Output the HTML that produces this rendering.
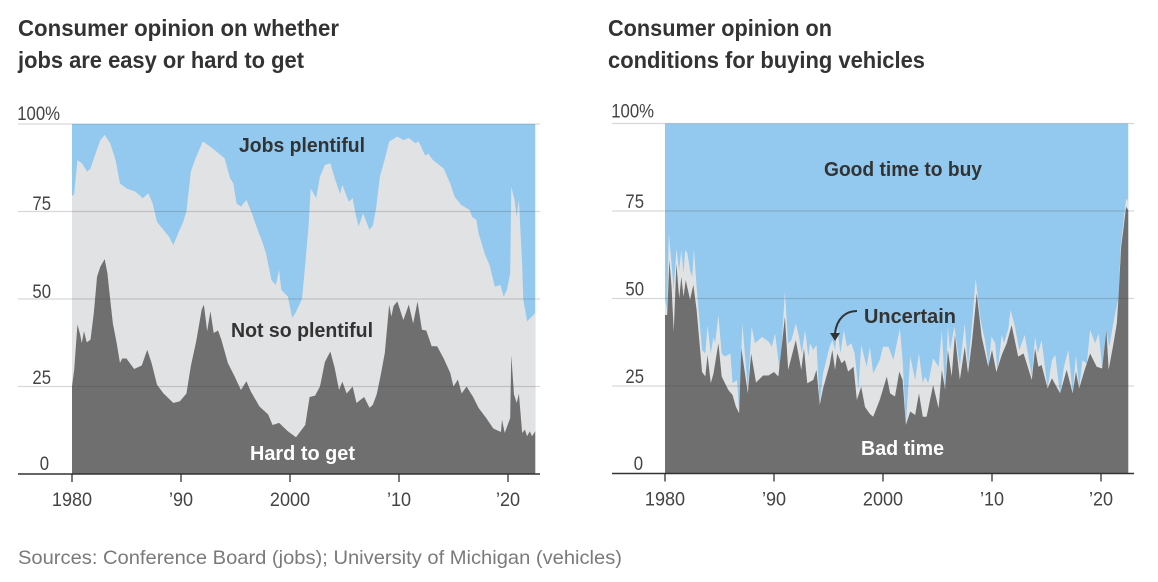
<!DOCTYPE html>
<html lang="en">
<head>
<meta charset="utf-8">
<title>Consumer opinion charts</title>
<style>
html,body{margin:0;padding:0;background:#fff}
svg{display:block}
text{font-family:"Liberation Sans",sans-serif}
.title{font-size:23px;font-weight:700;fill:#333}
.tick{font-size:19px;fill:#444}
.note{font-size:19.5px;fill:#7a7a7a}
.lab{font-size:20px;font-weight:700;fill:#333}
.labw{font-size:20px;font-weight:700;fill:#fff}
</style>
</head>
<body>
<svg id="root" width="1158" height="582" viewBox="0 0 1158 582" xmlns="http://www.w3.org/2000/svg">
  <rect width="1158" height="582" fill="#fff"/>
  <g id="chart-left"></g>
  <g id="chart-right"></g>

  <text class="title" x="18" y="36" textLength="321" lengthAdjust="spacingAndGlyphs">Consumer opinion on whether</text>
  <text class="title" x="18" y="68" textLength="286" lengthAdjust="spacingAndGlyphs">jobs are easy or hard to get</text>
  <text class="title" x="608" y="36" textLength="224" lengthAdjust="spacingAndGlyphs">Consumer opinion on</text>
  <text class="title" x="608" y="68" textLength="317" lengthAdjust="spacingAndGlyphs">conditions for buying vehicles</text>

  <text class="lab" x="239" y="152" textLength="126" lengthAdjust="spacingAndGlyphs">Jobs plentiful</text>
  <text class="lab" x="231" y="337" textLength="142" lengthAdjust="spacingAndGlyphs">Not so plentiful</text>
  <text class="labw" x="250" y="460" textLength="105" lengthAdjust="spacingAndGlyphs">Hard to get</text>
  <text class="lab" x="824" y="176" textLength="158" lengthAdjust="spacingAndGlyphs">Good time to buy</text>
  <text class="lab" x="864" y="323" textLength="92" lengthAdjust="spacingAndGlyphs">Uncertain</text>
  <text class="labw" x="861" y="455" textLength="83" lengthAdjust="spacingAndGlyphs">Bad time</text>

  <path d="M857 311 C846 311 837 318 835 333" fill="none" stroke="#333" stroke-width="2"/>
  <path d="M830 333 L840 333 L835 341 Z" fill="#333"/>

  <text class="note" x="18" y="564" textLength="604" lengthAdjust="spacingAndGlyphs">Sources: Conference Board (jobs); University of Michigan (vehicles)</text>
</svg>

<script>
const tickYears = [1980, 1990, 2000, 2010, 2020];
const tickYearLabels = ['1980', "\u201990", '2000', "\u201910", "\u201920"];
const tickPercents = [100, 75, 50, 25, 0];
const tickPercentLabels = ['100%', '75', '50', '25', '0'];

const jobsNotPlentifulTopYears = [1980,1980.2,1980.5,1980.9,1981.4,1981.7,1982.1,1982.6,1983,1983.5,1984,1984.4,1985,1985.8,1986.5,1987,1987.4,1987.8,1988.4,1988.9,1989.3,1989.8,1990.2,1990.5,1990.9,1991.4,1992,1992.7,1993.3,1994,1994.5,1994.8,1995.1,1995.5,1996,1996.5,1997,1997.5,1997.8,1998.3,1998.7,1999,1999.2,1999.8,2000.2,2000.5,2001.1,2001.4,2001.7,2001.9,2002.4,2002.75,2003.2,2003.7,2004.1,2004.6,2004.8,2005.4,2005.75,2006,2006.3,2006.7,2007.3,2007.6,2007.9,2008.25,2008.7,2009.1,2009.85,2010.4,2010.9,2011.5,2011.8,2012.4,2012.7,2013.1,2014.1,2014.7,2015.1,2015.7,2016.5,2016.7,2017.1,2017.3,2017.9,2018.3,2018.8,2019.3,2019.6,2019.9,2020.2,2020.3,2020.6,2020.8,2021,2021.3,2021.4,2021.75,2022.5];
const jobsNotPlentifulTopValues = [79.4,80,89.7,88.8,86.4,87.3,91,95.4,96.9,94.5,89.7,83,81.6,80.7,78.8,80.2,77.3,72,69.7,67.8,65.4,69.2,72,75,86.4,90.7,95,93.5,92,90.2,84.5,83,77.3,76.4,78.3,74.5,70,66,63,55.4,54,58.3,52.6,50.7,44.6,46,50,60,70.7,81.6,78.8,85,88.3,88.8,84.5,80,82.6,77.8,78.8,74.5,70.7,74.5,69.7,71,76,85,90,95,96.4,95.4,96,94.5,95,91,91.5,89.7,87.3,83,79.2,76.9,75.4,73.5,72.6,68.8,62.6,59.7,53.5,54,50.7,52.6,57.3,82,78.3,73.5,78.3,59.7,50,43.6,46];

const jobsHardYears = [1980,1980.2,1980.5,1980.75,1980.9,1981.1,1981.35,1981.7,1982,1982.3,1982.6,1983,1983.25,1983.5,1983.75,1984.1,1984.4,1984.6,1985,1985.7,1986.4,1986.9,1987.3,1987.8,1988.4,1989.3,1989.9,1990.5,1990.9,1991.4,1991.9,1992.1,1992.4,1992.7,1993,1993.4,1993.7,1994.3,1994.9,1995.5,1996,1996.4,1997.2,1998,1998.4,1999,1999.8,2000.55,2001.4,2001.8,2002.3,2002.75,2003.2,2003.7,2004.1,2004.5,2004.8,2005.2,2005.75,2006.1,2006.8,2007.3,2007.6,2007.95,2008.3,2008.7,2009.1,2009.3,2009.5,2009.85,2010.4,2010.9,2011.3,2011.7,2012.1,2012.5,2013,2013.5,2014.1,2014.7,2015,2015.4,2015.75,2016.2,2016.8,2017.3,2018,2018.65,2019.35,2019.45,2019.7,2020.2,2020.3,2020.55,2020.8,2021,2021.3,2021.55,2021.75,2022,2022.2,2022.5];
const jobsHardValues = [25,29.8,42.7,39.8,37.4,40.8,37.6,38.4,46,56.4,59.2,61.4,57.3,50,43,37.4,31.7,33,33,30,31,35.5,31.7,25.5,23,20.3,20.8,23,30.8,38,47,48.4,40.8,46.5,40.3,41,38.4,31.7,28,24,26.5,23.6,19.3,17,14,14.6,12.2,10.5,14,22,22.4,25,32,35,30.3,24,26.4,23,25,20.3,22,18.9,19.8,22.7,27.9,34.6,48.4,45,48,49.3,44,48.4,43,49.3,41.2,41,36.5,36.5,33,28.9,25,27,23,25,22,18.9,16,13,12,15.5,11.7,16,34,22.7,20.3,23,11.7,12.7,10.8,12.2,10.8,12.2];

const carsUncertainTopYears = [1980,1980.2,1980.35,1980.6,1980.8,1981.05,1981.3,1981.5,1981.7,1981.85,1982.05,1982.3,1982.5,1982.65,1982.9,1983.05,1983.4,1983.7,1983.9,1984.2,1984.45,1984.6,1984.9,1985.2,1985.5,1986,1986.2,1986.6,1986.8,1987.1,1987.35,1987.6,1987.95,1988.25,1988.9,1989.5,1989.8,1990.1,1990.55,1991,1991.3,1991.6,1992,1992.3,1992.55,1992.85,1993.15,1993.3,1993.6,1993.9,1994.2,1994.5,1995.1,1995.35,1995.6,1995.8,1996.1,1996.4,1996.7,1997.1,1997.4,1997.75,1998,1998.5,1998.8,1999.1,1999.7,2000,2000.5,2000.95,2001.55,2001.8,2002.1,2002.5,2002.95,2003.3,2003.65,2003.85,2004.15,2004.6,2005.1,2005.4,2005.7,2005.95,2006.15,2006.55,2007.05,2007.5,2007.8,2008.15,2008.5,2008.95,2009.35,2009.7,2009.95,2010.3,2010.5,2010.9,2011.1,2011.5,2011.7,2012.1,2012.5,2013,2013.65,2013.95,2014.2,2014.55,2015.1,2015.5,2015.8,2016.25,2016.6,2017,2017.4,2017.7,2018,2018.3,2018.7,2019,2019.45,2019.8,2020.1,2020.5,2020.75,2021.3,2021.6,2021.8,2022.05,2022.3,2022.5];
const carsUncertainTopValues = [49.6,46.7,68.6,60,52.4,64.3,58,63.9,57.2,63.9,63,58,56.2,64.3,53.4,47.7,35.3,34.3,42.4,34.3,39,37.2,45.3,34.3,33.4,34.3,25.8,26.7,18.1,42.9,33.4,23.9,42,37.2,39,37.7,36.2,40,28.6,52,37.2,38.1,42.9,39,34.3,41,33.4,37.2,35.3,36.7,20,28.6,36.2,38.1,35.3,41.5,34.3,41,36.2,37.2,34.3,23.9,36.7,30.5,36.2,28.6,32.4,36.2,36.2,32.4,41.5,32.4,13.9,33.4,26.7,34.3,25.8,27.7,25.8,32.9,30.5,41,22.9,42,35.3,42,30.5,42.9,30.5,42,55.8,43.9,38.1,30.5,39.1,37.2,29.1,39.6,37.2,41.5,46.7,42,35.3,39.6,27.7,39.1,34.3,38.1,24.3,32.4,33.9,22.4,30.5,35.3,22.9,33.9,24.3,32.4,31.4,41,37.2,40,30.5,41,36.2,45.8,50,64.8,71.5,78.6,77.7];

const carsBadYears = [1980,1980.2,1980.4,1980.6,1980.8,1981.05,1981.3,1981.5,1981.7,1981.9,1982.3,1982.6,1982.9,1983.4,1983.7,1983.9,1984.2,1984.45,1984.9,1985.2,1985.8,1986.2,1986.5,1986.8,1987,1987.6,1987.9,1988.35,1989,1989.5,1990,1990.4,1990.8,1991,1991.3,1992,1992.5,1992.75,1993.05,1993.6,1993.9,1994.2,1994.5,1995.1,1995.35,1995.6,1995.8,1996.2,1996.5,1996.8,1997.3,1997.6,1998,1998.35,1998.8,1999.1,1999.7,2000.35,2000.65,2001.1,2001.5,2001.8,2002.1,2002.5,2002.95,2003.3,2003.65,2004,2004.6,2005.1,2005.4,2005.7,2005.95,2006.3,2006.6,2007.05,2007.5,2007.8,2008.15,2008.6,2009.05,2009.65,2010,2010.4,2010.9,2011.35,2011.8,2012.4,2012.9,2013.65,2013.95,2014.25,2014.55,2015.1,2015.5,2016.25,2016.85,2017.4,2017.7,2018,2018.5,2019,2019.6,2020.1,2020.5,2020.7,2021.15,2021.45,2021.6,2021.85,2022.05,2022.3,2022.5];
const carsBadValues = [45.3,45.3,61,53.4,40.5,60,50,56.2,50.5,55.3,49.6,53.9,46.7,29,27.7,33.9,25.8,28.6,37.2,27.7,23.9,22.4,19.1,17.2,35.8,22.9,34.3,26,28,28,29,27.7,39,44.8,29.6,38.1,29.6,35.8,25.8,26.7,29.6,19.6,24.3,31,35.3,29.6,34.3,31.5,32.4,29.1,30.5,21,24.8,19,17,16.2,21,27.7,22.9,22,29.1,26.7,13.9,17.7,16.7,22.9,16.2,16.2,25.3,18.6,29.6,23.9,35.3,27.7,39.6,26.7,36.2,28.6,37.2,51.5,39.1,30.5,35.3,29,33.9,37.2,42.4,33.4,34.3,26.7,35.8,30.5,31,24.3,27.2,22.9,29.6,22.9,29.1,24.3,29.6,34.3,30.5,30,41,29.6,37.2,42.9,50,64.8,69.6,76.2,75.3];

const NS = 'http://www.w3.org/2000/svg';

function makeEl(parent, tag, attrs) {
  const el = document.createElementNS(NS, tag);
  for (const k in attrs) el.setAttribute(k, attrs[k]);
  parent.appendChild(el);
  return el;
}

function condense(el, factor) {
  const natural = el.getComputedTextLength();
  el.setAttribute('textLength', (natural * factor).toFixed(2));
  el.setAttribute('lengthAdjust', 'spacingAndGlyphs');
}

function drawChart(cfg) {
  const g = document.getElementById(cfg.id);
  const xScale = yr => cfg.x0 + (yr - 1980) * 10.9;
  const yScale = v => cfg.y0 - v * (cfg.y0 - cfg.yTop) / 100;
  const endYear = 2022.5;

  const areaPath = (years, values) => {
    let d = 'M' + xScale(years[0]).toFixed(2) + ' ' + yScale(0).toFixed(2);
    for (let i = 0; i < years.length; i++) {
      d += 'L' + xScale(years[i]).toFixed(2) + ' ' + yScale(values[i]).toFixed(2);
    }
    d += 'L' + xScale(years[years.length - 1]).toFixed(2) + ' ' + yScale(0).toFixed(2) + 'Z';
    return d;
  };

  const topArea = makeEl(g, 'rect', {x: xScale(1980), y: yScale(100), width: xScale(endYear) - xScale(1980), height: yScale(0) - yScale(100), fill: '#93c9ee'});
  
  

  const midArea = makeEl(g, 'path', {d: areaPath(cfg.midYears, cfg.midValues), fill: '#e1e2e4'});
  
  

  const lowArea = makeEl(g, 'path', {d: areaPath(cfg.lowYears, cfg.lowValues), fill: '#6f6f6f'});
  
  

  tickPercents.forEach((p, i) => {
    if (p !== 0) {
      const grid = makeEl(g, 'line', {x1: cfg.gridX1, x2: cfg.gridX2, y1: yScale(p), y2: yScale(p), stroke: 'rgba(60,60,60,0.2)', 'stroke-width': 1.2});
      
      
    }
    const label = makeEl(g, 'text', {class: 'tick', x: cfg.gridX1 + cfg.labelRight[i], y: yScale(p) - cfg.labelUp[i], 'text-anchor': 'end'});
    label.textContent = tickPercentLabels[i];
    
    
    condense(label, 0.88);
  });

  const axis = makeEl(g, 'line', {x1: cfg.gridX1, x2: cfg.gridX2, y1: yScale(0), y2: yScale(0), stroke: '#333', 'stroke-width': 1.4});
  
  

  tickYears.forEach((yr, i) => {
    const tick = makeEl(g, 'line', {x1: xScale(yr), x2: xScale(yr), y1: yScale(0), y2: yScale(0) + 8, stroke: '#333', 'stroke-width': 1.3});
    
    
    const label = makeEl(g, 'text', {class: 'tick', x: xScale(yr), y: yScale(0) + 32, 'text-anchor': 'middle'});
    label.textContent = tickYearLabels[i];
    
    
    condense(label, 0.95);
  });
}

drawChart({
  id: 'chart-left', x0: 72, y0: 474, yTop: 124, gridX1: 18, gridX2: 540,
  labelRight: [42, 33, 33, 33, 31], labelUp: [4, 1.7, 1, 2.5, 4],
  midYears: jobsNotPlentifulTopYears, midValues: jobsNotPlentifulTopValues,
  lowYears: jobsHardYears, lowValues: jobsHardValues,
  topName: 'jobs-plentiful-area', midName: 'not-so-plentiful-area', lowName: 'hard-to-get-area'
});

drawChart({
  id: 'chart-right', x0: 665, y0: 473.5, yTop: 123.5, gridX1: 612, gridX2: 1134,
  labelRight: [42, 32, 32, 32, 31], labelUp: [6, 3, 3, 3, 3.5],
  midYears: carsUncertainTopYears, midValues: carsUncertainTopValues,
  lowYears: carsBadYears, lowValues: carsBadValues,
  topName: 'good-time-area', midName: 'uncertain-area', lowName: 'bad-time-area'
});
</script>
</body>
</html>
